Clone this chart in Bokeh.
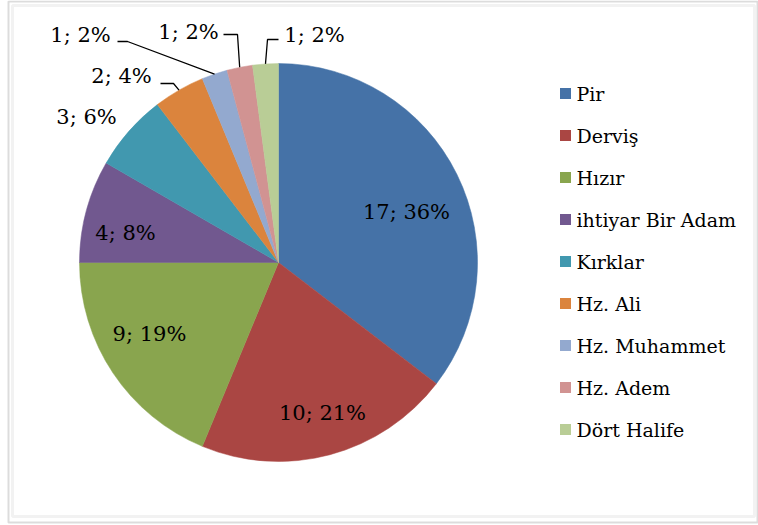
import math
from bokeh.plotting import figure
from bokeh.models import Range1d, ColumnDataSource, BoxAnnotation
from bokeh.core.properties import value
from bokeh.embed import file_html
from bokeh.resources import INLINE

# ---- data ----
categories = ["Pir", "Derviş", "Hızır", "ihtiyar Bir Adam", "Kırklar",
              "Hz. Ali", "Hz. Muhammet", "Hz. Adem", "Dört Halife"]
counts = [17, 10, 9, 4, 3, 2, 1, 1, 1]
percent_labels = ["36%", "21%", "19%", "8%", "6%", "4%", "2%", "2%", "2%"]
colors = ["#4572A7", "#AA4643", "#89A54E", "#71588F", "#4198AF",
          "#DB843D", "#93A9CF", "#D19392", "#B9CD96"]

# ---- layout (screen-like coordinates: x right, y = -screen_y) ----
W, H = 758, 525
CX, CY, R = 278, -262, 199
FONT = value("DejaVu Serif")

p = figure(width=W, height=H, output_backend="svg", toolbar_location=None,
           x_range=Range1d(0, W), y_range=Range1d(-H, 0),
           min_border=0, outline_line_color=None)
p.axis.visible = False
p.grid.visible = False
p.background_fill_color = "white"
p.border_fill_color = "white"

total = sum(counts)
cum = [0]
for c in counts:
    cum.append(cum[-1] + c)
starts = [math.pi / 2 - 2 * math.pi * cum[i + 1] / total for i in range(len(counts))]
ends = [math.pi / 2 - 2 * math.pi * cum[i] / total for i in range(len(counts))]
mids = [(s + e) / 2 for s, e in zip(starts, ends)]

src = ColumnDataSource(dict(start=starts, end=ends, color=colors,
                            x=[CX] * len(counts), y=[CY] * len(counts)))
p.wedge(x="x", y="y", radius=R, start_angle="start", end_angle="end",
        direction="anticlock", fill_color="color", line_color="color",
        line_width=0.5, source=src)

labels = [f"{c}; {pc}" for c, pc in zip(counts, percent_labels)]

# label anchor positions (layout)
label_pos = [(406, -211), (322, -412), (149, -333), (125, -232),
             (86, -116), (121, -75), (80, -34), (188, -31), (314, -34)]
p.text([q[0] for q in label_pos], [q[1] for q in label_pos], text=labels,
       text_font=FONT, text_font_size="21px",
       text_align="center", text_baseline="middle", text_color="black")

# leader lines: slice edge -> elbow -> end
elbows = {5: ((173, -83), (160, -83)), 6: ((127, -41), (117, -41)),
          7: ((237, -34), (223, -34)), 8: ((267, -39), (278, -39))}
xs, ys = [], []
for i, (e1, e2) in elbows.items():
    ex = CX + R * math.cos(mids[i])
    ey = CY + R * math.sin(mids[i])
    xs.append([ex, e1[0], e2[0]])
    ys.append([ey, e1[1], e2[1]])
p.multi_line(xs, ys, line_color="black", line_width=1.3)

# legend (manual)
lx0, ly0, dy = 565, -93, -42
lgx = [lx0] * len(categories)
lgy = [ly0 + dy * i for i in range(len(categories))]
p.rect(lgx, lgy, width=11, height=11, fill_color=colors, line_color=None)
p.text([lx0 + 11] * len(categories), lgy, text=categories, text_font=FONT,
       text_font_size="19px", text_align="left", text_baseline="middle",
       text_color="black")

# frame
p.add_layout(BoxAnnotation(left=8, right=757, top=-1, bottom=-522,
                           fill_alpha=0, line_color="#8a8a8a", line_width=2))
p.add_layout(BoxAnnotation(left=12, right=754, top=-5, bottom=-516,
                           fill_alpha=0, line_color="#d4d4d4", line_width=3))

open("out.html", "w").write(file_html(p, INLINE))
